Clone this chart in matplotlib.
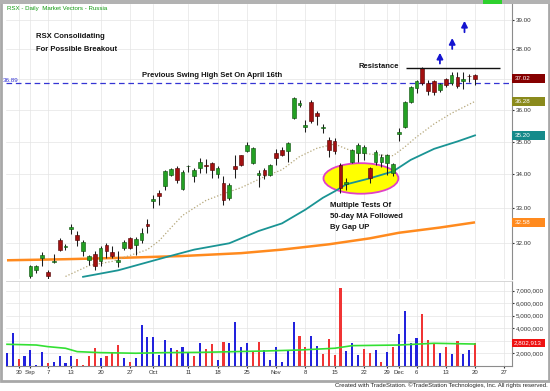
import matplotlib
matplotlib.use("Agg")
import matplotlib.pyplot as plt
import matplotlib.transforms as mtransforms
from matplotlib.patches import Ellipse, Rectangle
from matplotlib.ticker import FixedLocator, NullLocator, FixedFormatter

plt.rcParams['font.family'] = ['Liberation Sans', 'DejaVu Sans']

# ---------------- data ----------------
aug_days = [26, 27, 30, 31]
sep_days = [1, 2, 3, 7, 8, 9, 10, 13, 14, 15, 16, 17, 20, 21, 22, 23, 24, 27, 28, 29, 30]
oct_days = [1, 4, 5, 6, 7, 8, 11, 12, 13, 14, 15, 18, 19, 20, 21, 22, 25, 26, 27, 28, 29]
nov_days = [1, 2, 3, 4, 5, 8, 9, 10, 11, 12, 15, 16, 17, 18, 19, 22, 23, 24, 26, 29, 30]
dec_days = [1, 2, 3, 6, 7, 8, 9, 10, 13, 14, 15, 16, 17, 20]
dates = ([f"2010-08-{d:02d}" for d in aug_days] + [f"2010-09-{d:02d}" for d in sep_days] +
         [f"2010-10-{d:02d}" for d in oct_days] + [f"2010-11-{d:02d}" for d in nov_days] +
         [f"2010-12-{d:02d}" for d in dec_days])

tick_pos = [2, 4, 7, 11, 16, 21, 25, 31, 36, 41, 46, 51, 56, 61, 65, 67, 70, 75, 80, 85]
tick_lbl = ["30", "Sep", "7", "13", "20", "27", "Oct", "11", "18", "25", "Nov", "8", "15",
            "22", "29", "Dec", "6", "13", "20", "27"]

opens = [30.70, 30.45, 30.80, 30.55, 31.05, 31.24, 31.57, 31.17, 31.44, 32.08,
         31.87, 32.40, 32.23, 31.75, 31.52, 31.69, 31.47, 31.94, 31.72, 31.45,
         31.85, 32.13, 31.94, 32.08, 32.52, 33.20, 33.45, 33.64, 33.97, 34.19,
         33.56, 34.24, 33.94, 34.19, 34.28, 34.36, 34.01, 33.74, 33.29, 34.26,
         34.58, 34.70, 34.34, 33.99, 34.14, 33.99, 34.65, 34.75, 34.72, 35.76,
         36.16, 35.47, 36.26, 35.92, 35.42, 35.06, 35.03, 34.29, 33.72, 34.39,
         34.66, 34.66, 34.20, 34.38, 34.38, 34.35, 34.05, 35.24, 35.46, 36.26,
         36.71, 37.37, 36.87, 36.94, 36.64, 37.00, 36.87, 37.07, 36.94, 37.12,
         37.15]
highs = [30.85, 30.90, 30.90, 30.90, 31.36, 31.38, 31.72, 31.22, 31.69, 32.13,
         31.97, 32.52, 32.32, 32.08, 31.66, 31.75, 31.91, 31.99, 31.91, 31.75,
         32.08, 32.16, 32.16, 32.42, 32.67, 33.39, 33.52, 34.14, 34.20, 34.24,
         34.14, 34.27, 34.19, 34.49, 34.46, 34.39, 34.26, 33.94, 33.74, 34.58,
         34.60, 35.00, 34.83, 34.14, 34.19, 34.32, 34.77, 34.83, 34.98, 36.42,
         36.32, 35.68, 36.32, 35.97, 35.55, 35.15, 35.12, 34.35, 33.90, 34.77,
         34.96, 34.90, 34.23, 34.75, 34.63, 34.63, 34.35, 35.42, 36.29, 36.77,
         36.97, 37.40, 36.97, 36.97, 36.87, 37.03, 37.23, 37.23, 37.23, 37.16,
         37.16]
lows = [30.40, 30.30, 30.50, 30.45, 31.00, 31.15, 31.33, 30.95, 31.41, 31.75,
        31.78, 32.25, 31.89, 31.61, 31.38, 31.24, 31.33, 31.57, 31.57, 31.31,
        31.80, 31.82, 31.66, 31.99, 32.28, 33.00, 33.10, 33.54, 33.95, 33.74,
        33.54, 34.06, 33.76, 34.04, 34.04, 33.89, 33.89, 33.10, 33.24, 33.89,
        34.24, 34.67, 34.32, 33.62, 33.86, 33.94, 34.29, 34.55, 34.38, 35.72,
        36.09, 35.31, 35.60, 35.52, 35.26, 34.54, 34.62, 33.45, 33.54, 34.34,
        34.38, 34.44, 33.75, 34.29, 34.23, 33.99, 33.96, 35.01, 35.42, 36.23,
        36.55, 36.80, 36.48, 36.48, 36.58, 36.74, 36.80, 36.71, 36.67, 36.90,
        36.80]
closes = [30.50, 30.80, 30.60, 30.85, 31.33, 31.33, 31.66, 31.05, 31.48, 31.78,
          31.89, 32.45, 32.08, 32.03, 31.61, 31.33, 31.85, 31.75, 31.61, 31.52,
          32.01, 31.85, 32.10, 32.28, 32.48, 33.26, 33.35, 34.09, 34.16, 33.84,
          34.07, 34.26, 34.14, 34.39, 34.24, 34.12, 34.19, 33.24, 33.69, 34.16,
          34.29, 34.90, 34.80, 34.05, 33.99, 34.29, 34.50, 34.60, 34.96, 36.38,
          36.24, 35.52, 35.65, 35.82, 35.47, 34.75, 34.72, 33.60, 33.78, 34.75,
          34.90, 34.84, 33.90, 34.69, 34.53, 34.60, 34.32, 35.30, 36.26, 36.74,
          36.94, 36.87, 36.61, 36.58, 36.84, 36.80, 37.13, 36.77, 37.00, 37.10,
          37.02]

# volume in millions of shares, and up (1, blue) / down (0, red) flags
volume_m = [1.98, 3.58, 1.49, 1.78, 2.22, 1.00, 2.06, 1.17, 1.25, 1.76,
            1.17, 1.76, 1.52, 1.02, 1.78, 2.37, 1.63, 1.78, 1.98, 2.64,
            1.63, 1.25, 1.60, 4.25, 3.29, 3.29, 1.84, 3.04, 2.43, 2.24,
            2.51, 2.11, 1.76, 2.78, 2.32, 2.70, 1.44, 2.91, 2.83, 4.51,
            2.51, 2.83, 2.19, 2.85, 2.24, 1.44, 2.51, 1.25, 2.24, 4.51,
            3.39, 2.51, 3.39, 2.59, 1.89, 3.12, 1.84, 7.25, 2.16, 2.83,
            1.84, 2.32, 1.98, 2.24, 1.25, 2.11, 2.51, 3.50, 5.37, 2.83,
            3.23, 5.10, 3.04, 2.75, 2.03, 2.46, 1.95, 2.96, 1.89, 2.24,
            2.802913]
vol_up = [1, 1, 0, 1, 1, 1, 1, 0, 1, 1, 1, 1, 0, 0, 0, 0, 1, 0, 0, 0,
          1, 0, 1, 1, 1, 1, 1, 1, 1, 0, 1, 1, 0, 1, 0, 0, 1, 0, 1, 1,
          1, 1, 0, 0, 1, 1, 1, 1, 1, 1, 0, 0, 1, 1, 0, 0, 0, 0, 1, 1,
          1, 0, 0, 1, 0, 1, 0, 1, 1, 1, 1, 0, 0, 0, 1, 0, 1, 0, 1, 1,
          0]

# moving averages (bar index, value)
ma20_idx = [10, 14, 18, 22, 24, 26, 28, 30, 32, 34, 37, 40, 44, 47, 50, 53, 56, 58,
            60, 63, 66, 68, 70, 73, 76, 80]
ma20_val = [31.05, 31.35, 31.47, 31.69, 31.80, 32.05, 32.42, 32.78, 33.00, 33.22, 33.42,
            33.60, 33.93, 34.14, 34.54, 34.80, 34.93, 34.78, 34.66, 34.60, 34.57, 34.84,
            35.15, 35.56, 35.90, 36.28]
ma50_idx = [13, 19, 27, 32, 38, 43, 47, 51, 54, 56, 58, 62, 66, 69, 73, 77, 80]
ma50_val = [31.04, 31.22, 31.58, 31.80, 31.98, 32.33, 32.55, 32.95, 33.30, 33.49, 33.70,
            33.88, 34.09, 34.44, 34.78, 35.01, 35.20]
ma200_idx = [0, 10, 20, 30, 40, 47, 55, 62, 67, 74, 80]
ma200_val = [31.50, 31.53, 31.57, 31.62, 31.70, 31.80, 31.95, 32.12, 32.28, 32.43, 32.58]
vma_idx = [0, 5, 7, 10, 12, 16, 22, 27, 33, 39, 44, 50, 56, 59, 67, 73, 80]
vma_val = [2.70, 2.64, 2.51, 2.38, 2.11, 2.03, 1.98, 2.03, 2.05, 2.11, 2.16, 2.24, 2.38,
           2.59, 2.64, 2.78, 2.72]

swing_high = 36.89
resistance = 37.38
price_ticks = [32, 33, 34, 35, 36, 37, 38, 39]
vol_ticks = [2, 3, 4, 5, 6, 7]

# ---------------- figure ----------------
W, H = 550.0, 391.0
fig = plt.figure(figsize=(5.5, 3.91), dpi=100)
fig.patch.set_facecolor('white')


def frect(x0, y0, x1, y1):
    return [x0 / W, 1 - y1 / H, (x1 - x0) / W, (y1 - y0) / H]


ax = fig.add_axes(frect(6, 4, 512, 279))
axv = fig.add_axes(frect(6, 281, 512, 366), sharex=ax)

n = len(dates)
idx = list(range(n))
XLIM = (-0.17, 86.32)
PLIM = (30.98, 39.56)
VLIM = (0.956, 7.78)
grid_c = '#e4e4e4'
lab_c = '#333333'

# ---- price panel ----
ax.set_yscale('log')
ax.set_xlim(*XLIM)
ax.set_ylim(*PLIM)
ax.yaxis.set_major_locator(FixedLocator(price_ticks))
ax.yaxis.set_major_formatter(FixedFormatter([f"{t:.2f}" for t in price_ticks]))
ax.yaxis.set_minor_locator(NullLocator())
ax.yaxis.tick_right()
ax.tick_params(axis='y', length=1.5, pad=1, labelsize=4.5, colors=lab_c)
ax.tick_params(axis='x', length=0, labelbottom=False)
ax.set_xticks(tick_pos)
ax.grid(True, color=grid_c, lw=0.5)
ax.set_axisbelow(True)
for s in ('left', 'top', 'bottom'):
    ax.spines[s].set_visible(False)
ax.spines['right'].set_color('#8c8c8c')
ax.spines['right'].set_linewidth(0.8)

# ellipse highlight (behind candles)
ax.add_patch(Ellipse((60.5, 33.88), 12.8, 0.92, fc='#ffff00', ec='#e040c8', lw=1.3, zorder=2))

# swing high line
ax.axhline(swing_high, color='#3434d4', lw=0.9, dashes=(4.5, 3), zorder=2.5)
ax.annotate(f"{swing_high:.2f}", xy=(0, swing_high), xycoords=('axes fraction', 'data'),
            xytext=(-2.5, 1.5), textcoords='offset points', fontsize=4.5, color='#3434d4',
            va='center', ha='left', annotation_clip=False)

# moving averages
ax.plot(ma200_idx, ma200_val, color='#ff8a1e', lw=1.8, zorder=3, solid_capstyle='butt')
ax.plot(ma50_idx, ma50_val, color='#1a9494', lw=1.3, zorder=3.2)
ax.plot(ma20_idx, ma20_val, color='#b5a77a', lw=0.9, ls=(0, (1, 1.6)), zorder=3.1)

# candles
for i in idx:
    o, h, l, c = opens[i], highs[i], lows[i], closes[i]
    up = c >= o
    ax.vlines(i, l, h, color='#1c1c1c', lw=0.75, zorder=4)
    ax.bar(i, abs(c - o), bottom=min(o, c), width=0.64,
           color='#23a023' if up else '#a31010',
           edgecolor='#0c4c0c' if up else '#4a0000', lw=0.4, zorder=5)

# resistance line and arrows
ax.hlines(resistance, 68.2, 84.3, color='#111111', lw=1.0, zorder=5)
for xi, y0, y1 in [(74.0, 37.52, 37.88), (76.1, 38.01, 38.38), (78.2, 38.58, 38.97)]:
    ax.annotate("", xy=(xi, y1), xytext=(xi, y0),
                arrowprops=dict(arrowstyle='-|>,head_width=0.18,head_length=0.35',
                                color='#1414d0', lw=1.3, shrinkA=0, shrinkB=0),
                zorder=6)

# annotations
kw = dict(transform=ax.transAxes, fontsize=5.5, fontweight='bold', color='#141414',
          va='center', ha='left', zorder=7)
ax.text(0.0593, 0.8811, "RSX Consolidating", **kw)
ax.text(0.0593, 0.8353, "For Possible Breakout", **kw)
ax.text(0.2688, 0.740, "Previous Swing High Set On April 16th", **kw)
ax.text(0.6957, 0.772, "Resistance", **kw)
ax.text(0.6403, 0.2655, "Multiple Tests Of", **kw)
ax.text(0.6403, 0.2265, "50-day MA Followed", **kw)
ax.text(0.6403, 0.1865, "By Gap UP", **kw)
ax.text(0.002, 0.982, "RSX - Daily  Market Vectors - Russia", transform=ax.transAxes,
        fontsize=4.4, color='#119911', va='center', ha='left', zorder=7)

# value boxes on the right scale
btr = mtransforms.blended_transform_factory(ax.transAxes, ax.transData)
f = (PLIM[1] / PLIM[0]) ** (4.2 / 275.0)
for val, col in [(closes[-1], '#850000'), (ma20_val[-1], '#8a8a1c'),
                 (ma50_val[-1], '#158a8a'), (ma200_val[-1], '#ff8a1e')]:
    ax.add_patch(Rectangle((1.0, val / f), 33 / 506.0, val * f - val / f, transform=btr,
                           fc=col, ec='none', clip_on=False, zorder=8))
    ax.text(1.0 + 3 / 506.0, val, f"{val:.2f}", transform=btr, fontsize=4.5, color='white',
            va='center', ha='left', clip_on=False, zorder=9)

# ---- volume panel ----
axv.set_xlim(*XLIM)
axv.set_ylim(*VLIM)
axv.yaxis.set_major_locator(FixedLocator(vol_ticks))
axv.yaxis.set_major_formatter(FixedFormatter([f"{t * 1e6:,.0f}" for t in vol_ticks]))
axv.yaxis.tick_right()
axv.tick_params(axis='y', length=1.5, pad=1, labelsize=4.5, colors=lab_c)
axv.set_xticks(tick_pos)
axv.set_xticklabels(tick_lbl)
axv.tick_params(axis='x', length=1.5, pad=1.5, labelsize=4.3, colors=lab_c)
axv.grid(True, color=grid_c, lw=0.5)
axv.set_axisbelow(True)
axv.spines['left'].set_visible(False)
axv.spines['top'].set_color('#d0d0d0')
axv.spines['top'].set_linewidth(0.6)
for s in ('right', 'bottom'):
    axv.spines[s].set_color('#8c8c8c')
    axv.spines[s].set_linewidth(0.8)

axv.bar(idx, volume_m, width=0.36,
        color=['#2222dd' if u else '#f03434' for u in vol_up], zorder=3)
axv.plot(vma_idx, vma_val, color='#33e033', lw=1.2, zorder=4)

vtr = mtransforms.blended_transform_factory(axv.transAxes, axv.transData)
hb = (VLIM[1] - VLIM[0]) * 4.2 / 85.0
vlast = volume_m[-1]
axv.add_patch(Rectangle((1.0, vlast - hb), 33 / 506.0, 2 * hb, transform=vtr, fc='#ee1111',
                        ec='none', clip_on=False, zorder=8))
axv.text(1.0 + 2 / 506.0, vlast, f"{vlast * 1e6:,.0f}", transform=vtr, fontsize=4.5,
         color='white', va='center', ha='left', clip_on=False, zorder=9)

# ---- frame and footer ----
fig.add_artist(Rectangle((1.2 / W, 1 - 380.5 / H), 547.3 / W, 379.3 / H,
                         transform=fig.transFigure, fill=False, ec='#a8a8a8', lw=2))
fig.add_artist(Rectangle((0, 1 - 4 / H), 1, 4 / H, transform=fig.transFigure,
                         fc='#b2b2b2', ec='none'))
fig.add_artist(Rectangle((483 / W, 1 - 4 / H), 19 / W, 4 / H, transform=fig.transFigure,
                         fc='#2ed12e', ec='none'))
fig.text(548 / W, 1 - 385.5 / H,
         "Created with TradeStation. \u00a9TradeStation Technologies, Inc. All rights reserved.",
         fontsize=4.3, color='#222222', ha='right', va='center')

fig.savefig("out.png", dpi=100)
